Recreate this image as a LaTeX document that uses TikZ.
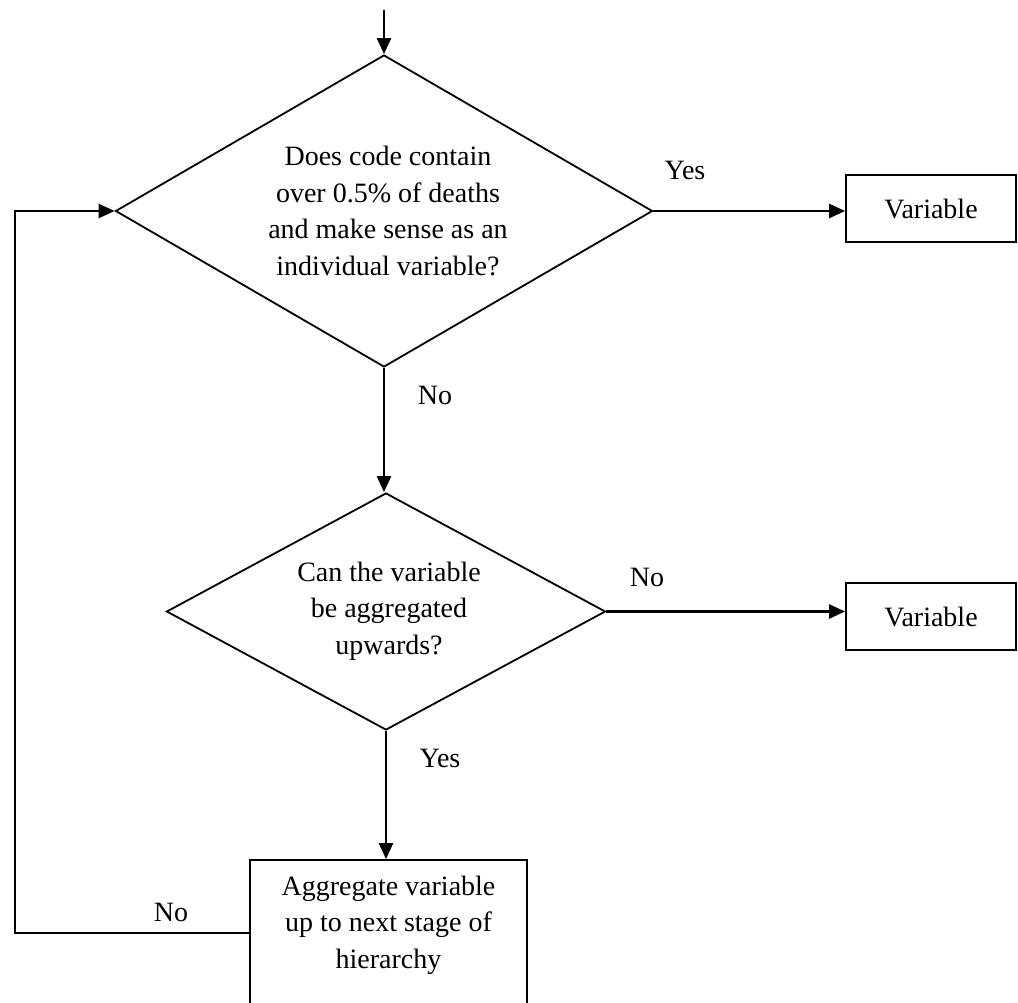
\documentclass[tikz,border=0pt]{standalone}
\usepackage{fontspec}
\setmainfont{Liberation Serif}
\usetikzlibrary{shapes.geometric,arrows.meta}
\begin{document}
\begin{tikzpicture}[x=1pt,y=-1pt,
  every node/.style={font=\fontsize{28pt}{36.5pt}\selectfont},
  conn/.style={line width=2.4pt,-{Triangle[length=16pt,width=14pt]}},
  decision/.style={diamond,draw,line width=1.8pt,inner sep=0pt,align=center},
  box/.style={rectangle,draw,line width=1.8pt,inner sep=0pt,align=center},
  lbl/.style={inner sep=0pt}]
\useasboundingbox (0,0) rectangle (1018,1003);
\clip (0,0) rectangle (1018,1003);
\coordinate (start) at (384,10);
\node[decision,minimum width=537pt,minimum height=312pt] (d1) at (384,211) {};
\node[lbl,align=center] (d1text) at (388,211) {Does code contain\\over 0.5\% of deaths\\and make sense as an\\individual variable?};
\node[box,minimum width=170pt,minimum height=67pt] (v1) at (931,208.5) {Variable};
\node[decision,minimum width=439pt,minimum height=237pt] (d2) at (386,611.5) {};
\node[lbl,align=center] (d2text) at (389,611) {Can the variable\\be aggregated\\upwards?};
\node[box,minimum width=170pt,minimum height=67pt] (v2) at (931,616.5) {Variable};
\node[box,minimum width=277pt,minimum height=146pt] (agg) at (388.5,933) {};
\node[lbl,align=center] (aggtext) at (388.5,925) {Aggregate variable\\up to next stage of\\hierarchy};
\coordinate (corner) at (15,933);
\draw[conn] (start) -- (d1.north);
\draw[conn] (d1.east) -- (d1.east -| v1.west);
\draw[conn] (d1.south) -- (d1.south |- d2.north);
\draw[conn] (d2.east) -- (d2.east -| v2.west);
\draw[conn] (d2.south) -- (d2.south |- agg.north);
\draw[conn] (agg.west) -- (corner) |- (d1.west);
\node[lbl] (yes1) at (685,170) {Yes};
\node[lbl] (no1) at (435,395) {No};
\node[lbl] (no2) at (647,577) {No};
\node[lbl] (yes2) at (440,758) {Yes};
\node[lbl] (no3) at (171,912) {No};
\end{tikzpicture}
\end{document}
